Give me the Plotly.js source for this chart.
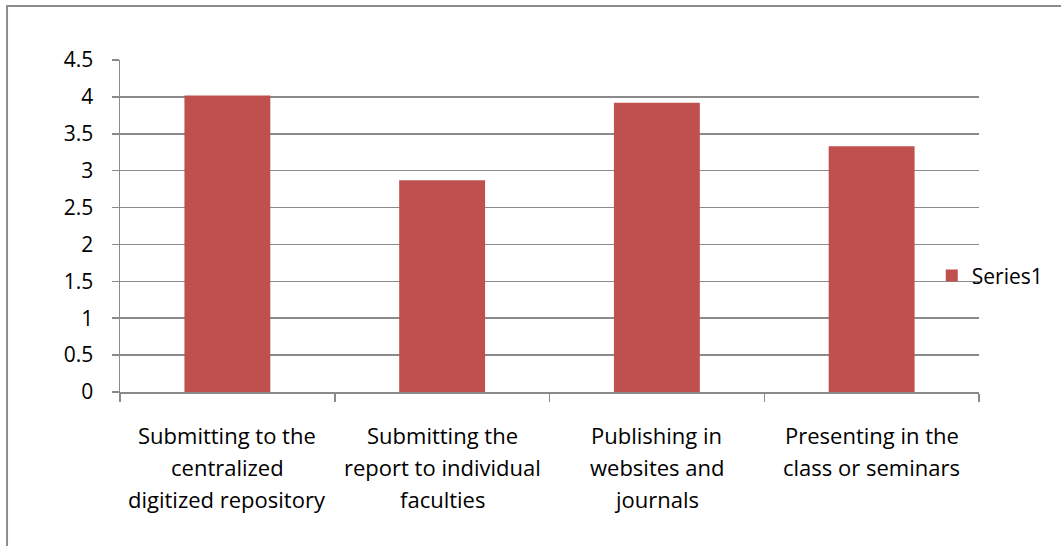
<!DOCTYPE html>
<html>
<head>
<meta charset="utf-8">
<script src="https://cdn.plot.ly/plotly-3.0.1.min.js"></script>
<style>
  html, body { margin: 0; padding: 0; background: #ffffff; }
  #chart { width: 1061px; height: 546px; }
</style>
</head>
<body>
<div id="chart"></div>
<script>
// Category labels, one array of lines per bar
const categoryLines = [
  ["Submitting to the", "centralized", "digitized repository"],
  ["Submitting the", "report to individual", "faculties"],
  ["Publishing in", "websites and", "journals"],
  ["Presenting in the", "class or seminars"]
];
const categories = categoryLines.map(l => l.join(" "));
const seriesName = "Series1";
const seriesValues = [4.02, 2.87, 3.92, 3.33];
const yTickValues = [0, 0.5, 1, 1.5, 2, 2.5, 3, 3.5, 4, 4.5];
const yTickLabels = ["0", "0.5", "1", "1.5", "2", "2.5", "3", "3.5", "4", "4.5"];

const gridGray = "#8a8a8a";
const fontFamily = "'Open Sans', 'Liberation Sans', sans-serif";

const trace = {
  type: "bar",
  x: categories,
  y: seriesValues,
  name: seriesName,
  marker: { color: "#c0504d", line: { width: 0 } },
  showlegend: true,
  hoverinfo: "x+y"
};

// Multi-line category labels placed under each category on the x axis
const lineSpacing = 32;
const annotations = [];
categoryLines.forEach((lines, i) => {
  lines.forEach((txt, j) => {
    annotations.push({
      x: categories[i],
      xref: "x",
      y: 0,
      yref: "paper",
      yanchor: "middle",
      xanchor: "center",
      yshift: -43 - j * lineSpacing,
      text: txt,
      showarrow: false,
      font: { family: fontFamily, size: 22, color: "#000000" }
    });
  });
});

const layout = {
  width: 1061,
  height: 546,
  margin: { l: 120, r: 82, t: 60, b: 154, pad: 0, autoexpand: false },
  paper_bgcolor: "#ffffff",
  plot_bgcolor: "#ffffff",
  bargap: 0.6,
  font: { family: fontFamily, size: 20, color: "#000000" },
  xaxis: {
    type: "category",
    showticklabels: false,
    showgrid: false,
    zeroline: false,
    showline: true,
    linecolor: gridGray,
    linewidth: 1.5,
    ticks: "outside",
    tickson: "boundaries",
    ticklen: 8,
    tickwidth: 1.5,
    tickcolor: gridGray,
    fixedrange: true
  },
  yaxis: {
    range: [0, 4.5],
    tickmode: "array",
    tickvals: yTickValues,
    ticktext: yTickLabels,
    showgrid: true,
    gridcolor: gridGray,
    gridwidth: 1.5,
    zeroline: false,
    showline: true,
    linecolor: gridGray,
    linewidth: 1.5,
    ticks: "outside",
    ticklen: 7,
    tickwidth: 1.5,
    tickcolor: gridGray,
    ticklabelstandoff: 14,
    tickfont: { family: fontFamily, size: 21, color: "#000000" },
    fixedrange: true
  },
  legend: {
    x: 0.945,
    xanchor: "left",
    y: 0.35,
    yanchor: "middle",
    bgcolor: "rgba(0,0,0,0)",
    borderwidth: 0,
    font: { family: fontFamily, size: 21, color: "#000000" },
    itemwidth: 30
  },
  annotations: annotations,
  shapes: [
    {
      // chart frame along the top and left edges
      type: "path",
      xref: "paper",
      yref: "paper",
      path: "M -0.1315,-0.6 L -0.1315,1.1627 L 1.2,1.1627",
      line: { color: "#8c8c8c", width: 2 },
      layer: "below"
    }
  ]
};

Plotly.newPlot("chart", [trace], layout, { displayModeBar: false, staticPlot: true });
</script>
</body>
</html>
